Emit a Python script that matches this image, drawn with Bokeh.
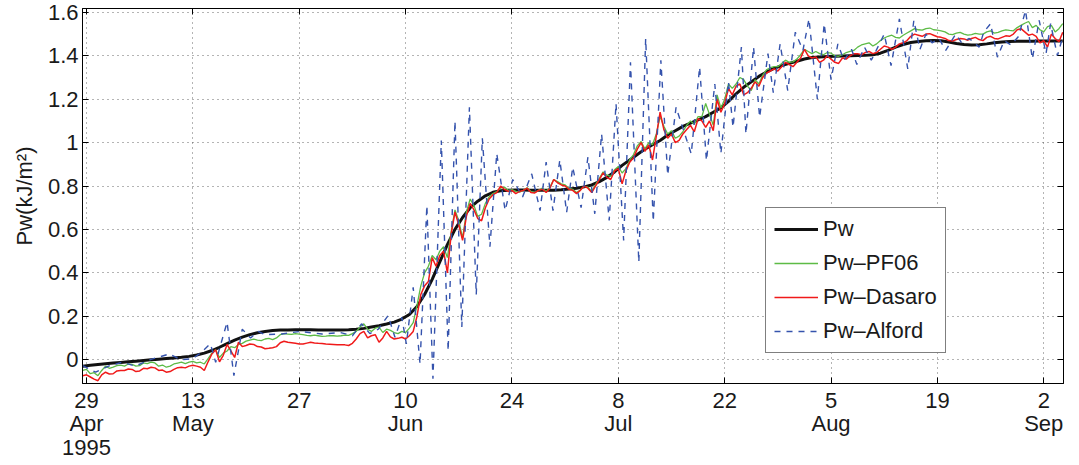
import pandas as pd
from bokeh.plotting import figure
from bokeh.models import Range1d, FixedTicker, LinearAxis, Legend, LegendItem
from bokeh.embed import file_html
from bokeh.resources import INLINE

# ---------------- data (days since 29 Apr 1995) ----------------
start_date = pd.Timestamp("1995-04-29")
dates = pd.date_range("1995-04-28 12:00", periods=130, freq="D")          # daily samples (noon)
dates_half = pd.date_range("1995-04-28 12:00", periods=259, freq="12h")   # half-day samples
day = list((dates - start_date) / pd.Timedelta(days=1))
day_half = list((dates_half - start_date) / pd.Timedelta(days=1))

pw = [-0.030, -0.026, -0.022, -0.019, -0.016, -0.013, -0.010, -0.007, -0.004, -0.001,
      0.002, 0.005, 0.008, 0.011, 0.015, 0.021, 0.030, 0.042, 0.057, 0.074,
      0.090, 0.104, 0.115, 0.124, 0.130, 0.134, 0.136, 0.137, 0.138, 0.138,
      0.138, 0.137, 0.136, 0.136, 0.137, 0.138, 0.140, 0.144, 0.150, 0.156,
      0.164, 0.173, 0.187, 0.208, 0.245, 0.300, 0.370, 0.450, 0.530, 0.600,
      0.655, 0.700, 0.730, 0.755, 0.771, 0.778, 0.781, 0.782, 0.782, 0.781,
      0.780, 0.780, 0.781, 0.783, 0.786, 0.790, 0.796, 0.805, 0.820, 0.840,
      0.865, 0.895, 0.920, 0.945, 0.970, 0.990, 1.010, 1.035, 1.055, 1.075,
      1.090, 1.105, 1.120, 1.140, 1.160, 1.190, 1.225, 1.255, 1.280, 1.305,
      1.325, 1.342, 1.355, 1.365, 1.375, 1.385, 1.392, 1.395, 1.397, 1.398,
      1.399, 1.400, 1.401, 1.402, 1.405, 1.412, 1.425, 1.440, 1.452, 1.461,
      1.466, 1.469, 1.470, 1.469, 1.464, 1.457, 1.452, 1.450, 1.451, 1.455,
      1.460, 1.464, 1.466, 1.467, 1.467, 1.467, 1.468, 1.468, 1.468, 1.468]

# Pw-PF06: readings at noon (130) and at midnight (129)
pf06_noon = [-0.050, -0.065, -0.074, -0.030, -0.035, -0.025, -0.020, -0.030, -0.015, -0.012,
             -0.030, -0.035, -0.020, -0.012, -0.012, -0.015, -0.020, 0.030, 0.010, 0.040,
             0.055, 0.075, 0.090, 0.090, 0.095, 0.092, 0.115, 0.118, 0.120, 0.115,
             0.110, 0.110, 0.108, 0.110, 0.110, 0.112, 0.130, 0.165, 0.130, 0.150,
             0.140, 0.125, 0.130, 0.145, 0.250, 0.400, 0.480, 0.500, 0.470, 0.690,
             0.560, 0.740, 0.660, 0.720, 0.765, 0.790, 0.780, 0.775, 0.780, 0.775,
             0.780, 0.775, 0.830, 0.810, 0.790, 0.770, 0.800, 0.775, 0.835, 0.850,
             0.875, 0.860, 0.920, 0.985, 0.970, 0.990, 1.120, 1.040, 1.020, 1.050,
             1.100, 1.120, 1.180, 1.080, 1.160, 1.270, 1.270, 1.290, 1.240, 1.270,
             1.335, 1.350, 1.365, 1.370, 1.385, 1.430, 1.410, 1.410, 1.415, 1.400,
             1.405, 1.420, 1.440, 1.455, 1.445, 1.470, 1.490, 1.485, 1.495, 1.515,
             1.520, 1.525, 1.520, 1.515, 1.500, 1.505, 1.500, 1.498, 1.500, 1.510,
             1.505, 1.515, 1.517, 1.530, 1.550, 1.530, 1.520, 1.535, 1.510, 1.548]
pf06_midnight = [-0.045, -0.060, -0.050, -0.040, -0.028, -0.030, -0.022, -0.028, -0.018, -0.015,
                 -0.025, -0.030, -0.016, -0.018, -0.008, -0.012, 0.005, 0.045, 0.030, 0.060,
                 0.070, 0.085, 0.095, 0.088, 0.098, 0.100, 0.120, 0.116, 0.118, 0.112,
                 0.113, 0.107, 0.111, 0.108, 0.113, 0.120, 0.150, 0.140, 0.145, 0.125,
                 0.135, 0.120, 0.125, 0.170, 0.340, 0.430, 0.460, 0.520, 0.590, 0.640,
                 0.680, 0.710, 0.670, 0.750, 0.775, 0.795, 0.783, 0.772, 0.792, 0.770,
                 0.790, 0.795, 0.820, 0.805, 0.785, 0.782, 0.795, 0.805, 0.865, 0.845,
                 0.890, 0.880, 0.945, 1.005, 1.000, 1.040, 1.075, 1.055, 1.030, 1.080,
                 1.085, 1.120, 1.130, 1.220, 1.200, 1.250, 1.300, 1.260, 1.290, 1.310,
                 1.345, 1.350, 1.380, 1.372, 1.405, 1.420, 1.420, 1.405, 1.412, 1.398,
                 1.415, 1.425, 1.450, 1.460, 1.455, 1.482, 1.495, 1.482, 1.505, 1.525,
                 1.518, 1.528, 1.518, 1.510, 1.498, 1.508, 1.495, 1.503, 1.500, 1.515,
                 1.508, 1.520, 1.515, 1.540, 1.558, 1.540, 1.510, 1.540, 1.525]

# Pw-Dasaro: readings at noon (130) and at midnight (129)
dasaro_noon = [-0.074, -0.080, -0.097, -0.058, -0.065, -0.050, -0.043, -0.055, -0.040, -0.035,
               -0.050, -0.058, -0.045, -0.035, -0.030, -0.030, -0.050, 0.026, -0.010, 0.070,
               0.010, 0.060, 0.072, 0.060, 0.050, 0.055, 0.078, 0.080, 0.075, 0.072,
               0.080, 0.075, 0.072, 0.070, 0.068, 0.065, 0.095, 0.130, 0.110, 0.080,
               0.130, 0.095, 0.103, 0.110, 0.200, 0.340, 0.470, 0.480, 0.400, 0.680,
               0.550, 0.720, 0.650, 0.700, 0.760, 0.800, 0.775, 0.765, 0.780, 0.770,
               0.780, 0.770, 0.830, 0.805, 0.785, 0.765, 0.800, 0.770, 0.830, 0.840,
               0.870, 0.810, 0.910, 0.970, 0.960, 0.920, 1.140, 1.020, 1.000, 1.040,
               1.080, 1.110, 1.070, 1.055, 1.140, 1.250, 1.260, 1.220, 1.250, 1.260,
               1.320, 1.340, 1.350, 1.360, 1.370, 1.430, 1.390, 1.370, 1.400, 1.370,
               1.390, 1.400, 1.410, 1.415, 1.410, 1.430, 1.440, 1.440, 1.460, 1.490,
               1.495, 1.500, 1.495, 1.485, 1.470, 1.475, 1.478, 1.480, 1.475, 1.485,
               1.480, 1.485, 1.490, 1.520, 1.510, 1.500, 1.460, 1.440, 1.480, 1.509]
dasaro_midnight = [-0.070, -0.090, -0.070, -0.066, -0.052, -0.050, -0.045, -0.052, -0.042, -0.038,
                   -0.048, -0.055, -0.037, -0.038, -0.026, -0.035, -0.010, 0.045, 0.020, 0.040,
                   0.080, 0.065, 0.070, 0.058, 0.052, 0.060, 0.085, 0.078, 0.072, 0.076,
                   0.077, 0.074, 0.071, 0.069, 0.068, 0.075, 0.120, 0.100, 0.115, 0.100,
                   0.105, 0.098, 0.095, 0.130, 0.300, 0.360, 0.430, 0.500, 0.580, 0.620,
                   0.660, 0.690, 0.640, 0.740, 0.770, 0.785, 0.780, 0.775, 0.790, 0.768,
                   0.785, 0.790, 0.815, 0.800, 0.780, 0.780, 0.790, 0.800, 0.860, 0.830,
                   0.880, 0.870, 0.930, 1.000, 0.990, 1.030, 1.060, 1.040, 1.010, 1.060,
                   1.050, 1.100, 1.100, 1.200, 1.180, 1.220, 1.270, 1.230, 1.280, 1.300,
                   1.330, 1.330, 1.370, 1.350, 1.390, 1.400, 1.395, 1.380, 1.385, 1.365,
                   1.385, 1.410, 1.405, 1.420, 1.415, 1.445, 1.430, 1.455, 1.470, 1.500,
                   1.490, 1.502, 1.488, 1.480, 1.468, 1.480, 1.472, 1.485, 1.470, 1.490,
                   1.478, 1.492, 1.500, 1.525, 1.495, 1.490, 1.470, 1.500, 1.465]

alford_day = [-0.5, 1.2, 2.9, 4.7, 6.4, 8.4, 10.9, 12.4, 13.9, 15.0,
              16.3, 17.0, 18.5, 19.4, 20.5, 21.6, 22.6, 23.5, 25.7, 28.1,
              31.0, 33.4, 35.0, 36.2, 37.3, 38.4, 39.7, 40.6, 41.5, 42.1,
              43.0, 43.9, 44.8, 45.6, 46.7, 47.6, 48.5, 49.4, 50.4, 51.3,
              52.1, 53.1, 54.0, 55.1, 56.1, 57.4, 58.6, 59.7, 60.5, 61.4,
              62.3, 63.2, 64.0, 65.1, 66.0, 66.9, 67.8, 68.8, 69.7, 70.7,
              71.6, 72.7, 73.6, 74.6, 75.6, 76.5, 77.6, 79.6, 80.7, 81.6,
              82.7, 83.5, 84.5, 85.1, 86.2, 86.8, 87.8, 88.6, 89.7, 90.4,
              91.3, 92.3, 93.3, 94.3, 95.1, 96.2, 97.1, 98.0, 98.9, 99.7,
              100.7, 101.4, 102.4, 103.3, 104.3, 105.0, 105.9, 107.0, 108.1, 108.9,
              109.7, 110.5, 111.3, 112.2, 113.1, 114.4, 115.2, 116.2, 117.5, 118.1,
              119.0, 119.9, 120.8, 121.7, 122.7, 123.6, 124.5, 125.4, 126.3, 126.9,
              127.8, 128.6]
pw_alford = [-0.028, -0.058, -0.030, -0.012, -0.030, 0.000, 0.026, 0.000, 0.004, 0.030,
             0.073, -0.012, 0.172, -0.074, 0.140, 0.100, 0.130, 0.115, 0.118, 0.130,
             0.118, 0.125, 0.110, 0.165, 0.120, 0.140, 0.203, 0.103, 0.195, 0.072,
             0.333, -0.020, 0.710, -0.088, 1.010, 0.040, 1.100, 0.150, 1.163, 0.300,
             1.020, 0.520, 0.950, 0.687, 0.830, 0.750, 0.856, 0.687, 0.910, 0.687,
             0.920, 0.679, 0.887, 0.700, 0.933, 0.672, 1.040, 0.641, 1.180, 0.549,
             1.370, 0.449, 1.479, 0.637, 1.379, 0.850, 1.163, 0.948, 1.348, 0.917,
             1.270, 0.950, 1.280, 1.071, 1.440, 1.040, 1.440, 1.117, 1.410, 1.230,
             1.455, 1.240, 1.509, 1.425, 1.570, 1.200, 1.548, 1.290, 1.455, 1.379,
             1.430, 1.360, 1.440, 1.380, 1.450, 1.500, 1.355, 1.570, 1.340, 1.563,
             1.430, 1.500, 1.460, 1.480, 1.425, 1.500, 1.460, 1.480, 1.440, 1.509,
             1.548, 1.394, 1.470, 1.450, 1.490, 1.609, 1.386, 1.563, 1.409, 1.548,
             1.400, 1.500]

x_ticks = [0, 14, 28, 42, 56, 70, 84, 98, 112, 126]
x_labels = ["29\nApr\n1995", "13\nMay", "27", "10\nJun", "24", "8\nJul", "22", "5\nAug", "19", "2\nSep"]
y_ticks = [0.0, 0.2, 0.4, 0.6, 0.8, 1.0, 1.2, 1.4, 1.6]
y_labels = ["0", "0.2", "0.4", "0.6", "0.8", "1", "1.2", "1.4", "1.6"]
series_names = ["Pw", "Pw\u2013PF06", "Pw\u2013Dasaro", "Pw\u2013Alford"]


def interleave(noon, midnight):
    out = []
    for i, v in enumerate(noon):
        out.append(v)
        if i < len(midnight):
            out.append(midnight[i])
    return out


pw_pf06 = interleave(pf06_noon, pf06_midnight)
pw_dasaro = interleave(dasaro_noon, dasaro_midnight)

FONT = "Liberation Sans"
FS = "22px"
TXT = "#1a1a1a"

p = figure(frame_width=981, frame_height=375, output_backend="svg", toolbar_location=None,
           x_range=Range1d(-0.53, 128.6), y_range=Range1d(-0.11, 1.618),
           min_border_left=82, min_border_right=16, min_border_top=8, min_border_bottom=60,
           background_fill_color="white", border_fill_color="white")
p.outline_line_color = "black"
p.outline_line_width = 1

# axes
for ax in (p.xaxis[0], p.yaxis[0]):
    ax.major_tick_in = 6
    ax.major_tick_out = 0
    ax.minor_tick_line_color = None
    ax.axis_line_color = "black"
    ax.major_tick_line_color = "black"
    ax.major_label_text_font = FONT
    ax.major_label_text_font_size = FS
    ax.major_label_text_color = TXT

p.xaxis[0].ticker = FixedTicker(ticks=x_ticks)
p.xaxis[0].major_label_overrides = dict(zip(x_ticks, x_labels))
p.xaxis[0].major_label_standoff = 4
p.xaxis[0].major_label_text_line_height = 0.95

p.yaxis[0].ticker = FixedTicker(ticks=y_ticks)
p.yaxis[0].major_label_overrides = dict(zip(y_ticks, y_labels))
p.yaxis[0].major_label_standoff = 4
p.yaxis[0].axis_label = "Pw(kJ/m\u00b2)"
p.yaxis[0].axis_label_text_font = FONT
p.yaxis[0].axis_label_text_font_style = "normal"
p.yaxis[0].axis_label_text_font_size = FS
p.yaxis[0].axis_label_text_color = TXT
p.yaxis[0].axis_label_standoff = 8

top_axis = LinearAxis(ticker=FixedTicker(ticks=x_ticks), major_tick_in=6, major_tick_out=0,
                      minor_tick_line_color=None, major_label_text_font_size="0px",
                      major_label_standoff=0, axis_line_color="black")
top_axis.major_label_overrides = {t: "" for t in x_ticks}
p.add_layout(top_axis, "above")
right_axis = LinearAxis(ticker=FixedTicker(ticks=y_ticks), major_tick_in=6, major_tick_out=0,
                        minor_tick_line_color=None, major_label_text_font_size="0px",
                        major_label_standoff=0, axis_line_color="black")
right_axis.major_label_overrides = {t: "" for t in y_ticks}
p.add_layout(right_axis, "right")

# grid
for g in (p.xgrid[0], p.ygrid[0]):
    g.grid_line_color = "#444444"
    g.grid_line_dash = "1 4"
    g.grid_line_width = 1
    g.grid_line_alpha = 0.8
p.xgrid[0].ticker = FixedTicker(ticks=x_ticks)
p.ygrid[0].ticker = FixedTicker(ticks=y_ticks)

# series
r0 = p.line(day, pw, line_color="#111111", line_width=3)
r1 = p.line(day_half, pw_pf06, line_color="#5dbb46", line_width=1.3)
r2 = p.line(day_half, pw_dasaro, line_color="#f01a1a", line_width=1.5)
r3 = p.line(alford_day, pw_alford, line_color="#3553ad", line_width=1.4, line_dash="6 6")

legend = Legend(items=[LegendItem(label=series_names[0], renderers=[r0]),
                       LegendItem(label=series_names[1], renderers=[r1]),
                       LegendItem(label=series_names[2], renderers=[r2]),
                       LegendItem(label=series_names[3], renderers=[r3])],
                location=(683, 30), margin=0, padding=8, spacing=8,
                glyph_width=44, glyph_height=20, label_height=20, label_standoff=5,
                label_text_font=FONT, label_text_font_size=FS, label_text_color=TXT,
                border_line_color="black", border_line_width=1,
                background_fill_color="white", background_fill_alpha=1.0)
p.add_layout(legend)

open("out.html", "w").write(file_html(p, INLINE))
